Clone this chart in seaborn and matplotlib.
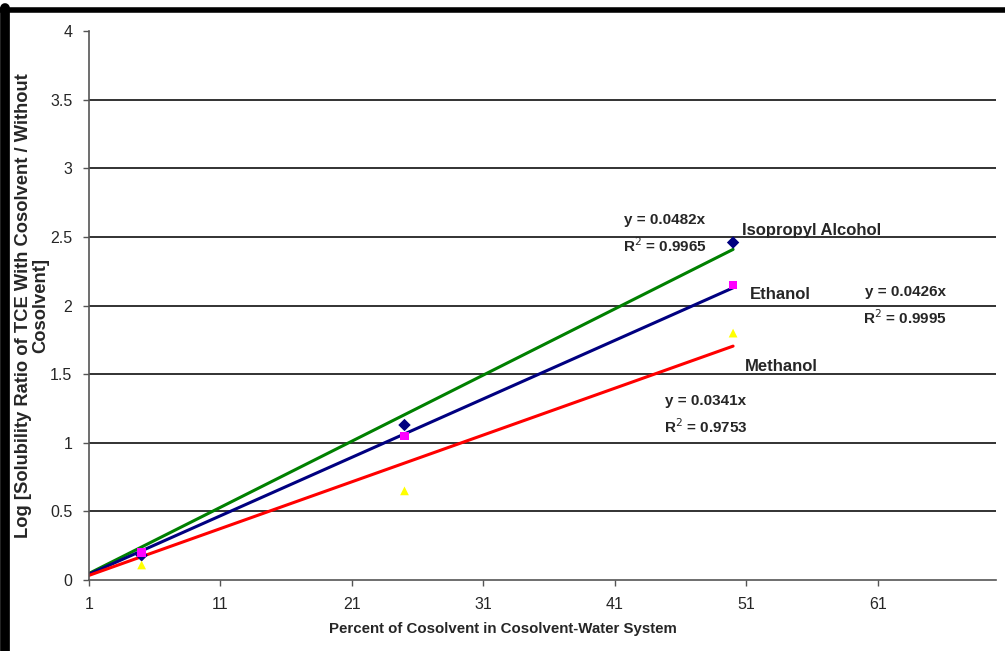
import numpy as np
import pandas as pd
import seaborn as sns
import matplotlib.pyplot as plt
from matplotlib.lines import Line2D

# measured points
percent = [5, 25, 50]
isopropyl = [0.18, 1.13, 2.46]
ethanol = [0.20, 1.05, 2.15]
methanol = [0.11, 0.65, 1.80]

# trendline slopes (y = m*x) and fit quality
slopes = {"Isopropyl Alcohol": 0.0482, "Ethanol": 0.0426, "Methanol": 0.0341}
r2 = {"Isopropyl Alcohol": 0.9965, "Ethanol": 0.9995, "Methanol": 0.9753}
fit_x = [1, 50]

sns.set_style("white")
plt.rcParams['font.family'] = ['Liberation Sans', 'DejaVu Sans']

fig = plt.figure(figsize=(10.05, 6.51), dpi=100)
ax = fig.add_axes([0.0886, 0.109, 0.9024, 0.843])

pts = pd.DataFrame({
    "x": percent * 3,
    "y": isopropyl + ethanol + methanol,
    "solvent": ["Isopropyl Alcohol"] * 3 + ["Ethanol"] * 3 + ["Methanol"] * 3,
})
fits = pd.DataFrame({
    "x": fit_x * 3,
    "y": [slopes[s] * x for s in slopes for x in fit_x],
    "solvent": [s for s in slopes for _ in fit_x],
})

line_colors = {"Isopropyl Alcohol": "#008000", "Ethanol": "#000080", "Methanol": "#FF0000"}
mark_colors = {"Isopropyl Alcohol": "#000080", "Ethanol": "#FF00FF", "Methanol": "#FFFF00"}
markers = {"Isopropyl Alcohol": "D", "Ethanol": "s", "Methanol": "^"}

# horizontal grid lines (none at the top)
for yv in np.arange(0.5, 4.0, 0.5):
    ax.axhline(yv, color="#222222", lw=1.3, zorder=0)

sns.lineplot(data=fits, x="x", y="y", hue="solvent", palette=line_colors,
             lw=2.2, legend=False, ax=ax, zorder=2)
sns.scatterplot(data=pts, x="x", y="y", hue="solvent", style="solvent",
                palette=mark_colors, markers=markers, s=40, edgecolor="none",
                legend=False, ax=ax, zorder=3)

ax.set_xlim(1, 70)
ax.set_ylim(0, 4)
ax.set_xticks([1, 11, 21, 31, 41, 51, 61])
ax.set_yticks(np.arange(0, 4.01, 0.5))
ax.set_yticklabels(["0", "0.5", "1", "1.5", "2", "2.5", "3", "3.5", "4"])
for s in ["top", "right"]:
    ax.spines[s].set_visible(False)
for s in ["left", "bottom"]:
    ax.spines[s].set_color("#555555")
    ax.spines[s].set_linewidth(1.2)
ax.tick_params(axis="both", direction="out", length=4, width=1, color="#555555",
               labelsize=11.5, pad=8, bottom=True, left=True)

ax.set_xlabel("Percent of Cosolvent in Cosolvent-Water System", fontsize=10.8,
              fontweight="bold")
ax.xaxis.set_label_coords(0.456, -0.077)
ax.set_ylabel("Log [Solubility Ratio of TCE With Cosolvent / Without\nCosolvent]",
              fontsize=13.2, fontweight="bold", linespacing=1.0)
ax.yaxis.set_label_coords(-0.044, 0.5)

txt = dict(fontsize=12, fontweight="bold", ha="left", va="center")
ax.text(50.7, 2.55, "Isopropyl Alcohol", **txt)
ax.text(51.3, 2.08, "Ethanol", **txt)
ax.text(50.9, 1.56, "Methanol", **txt)

eq = dict(fontsize=11, fontweight="bold", ha="center", va="center", linespacing=1.6)
ax.text(44.8, 2.52, f"y = {slopes['Isopropyl Alcohol']}x\nR$^2$ = {r2['Isopropyl Alcohol']}", **eq)
ax.text(63.1, 2.0, f"y = {slopes['Ethanol']}x\nR$^2$ = {r2['Ethanol']}", **eq)
ax.text(47.9, 1.2, f"y = {slopes['Methanol']}x\nR$^2$ = {r2['Methanol']}", **eq)

# black frame along top and left edges
fig.add_artist(Line2D([0, 1], [0.985, 0.985], transform=fig.transFigure, color="black", lw=4))
fig.add_artist(Line2D([0.005, 0.005], [0, 0.988], transform=fig.transFigure, color="black", lw=7))

fig.savefig("out.png", dpi=100)
